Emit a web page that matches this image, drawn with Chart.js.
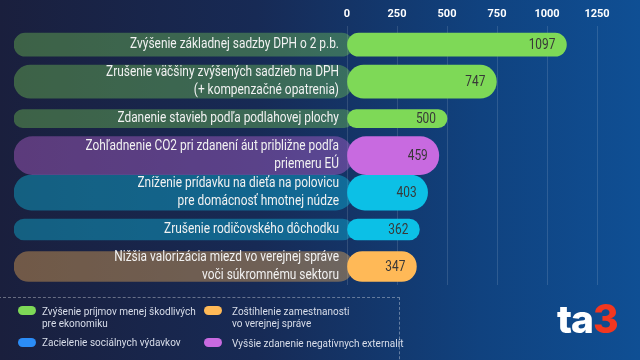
<!DOCTYPE html>
<html>
<head>
<meta charset="utf-8">
<script src="https://cdn.jsdelivr.net/npm/chart.js@4.4.1/dist/chart.umd.min.js"></script>
<style>
  html, body { margin: 0; padding: 0; }
  body {
    width: 640px; height: 360px; overflow: hidden; position: relative;
    background: linear-gradient(90deg, #1a1f3d 0%, #172a55 40%, #10427f 75%, #0f4f94 100%);
    font-family: Roboto, sans-serif;
  }
  #wrap { position: absolute; left: 0; top: 0; width: 640px; height: 360px; }
  .legend-box {
    position: absolute; left: -2px; top: 297px; width: 400px; height: 80px;
    border: 1px dashed rgba(255, 255, 255, 0.35);
  }
  .item {
    position: absolute; color: #d9deea; font-size: 11.5px; line-height: 12px;
    white-space: nowrap; transform: scaleX(0.87); transform-origin: left top;
  }
  .sw { position: absolute; width: 18px; height: 9px; border-radius: 5px; }
  .logo {
    position: absolute; left: 557px; top: 295px; font-family: Inter, sans-serif;
    font-weight: 800; font-size: 39px; letter-spacing: -1px; color: #fff;
  }
  .logo span { color: #f2371f; }
</style>
</head>
<body>
<div id="wrap"><canvas id="chart"></canvas></div>

<div class="legend-box"></div>
<div class="sw" style="left:18px; top:306px; background:#7ed957"></div>
<div class="item" style="left:42px; top:305px">Zvýšenie príjmov menej škodlivých<br>pre ekonomiku</div>
<div class="sw" style="left:18px; top:338px; background:#2b8cf6"></div>
<div class="item" style="left:42px; top:336px">Zacielenie sociálnych výdavkov</div>
<div class="sw" style="left:204px; top:306px; background:#ffb957"></div>
<div class="item" style="left:232px; top:305px">Zoštíhlenie zamestnanosti<br>vo verejnej správe</div>
<div class="sw" style="left:204px; top:338px; background:#c86ae0"></div>
<div class="item" style="left:232px; top:337px">Vyššie zdanenie negatívnych externalít</div>

<div class="logo">ta<span>3</span></div>

<script>
// === Data ===
const labels = [
  'Zvýšenie základnej sadzby DPH o 2 p.b.',
  ['Zrušenie väčšiny zvýšených sadzieb na DPH', '(+ kompenzačné opatrenia)'],
  'Zdanenie stavieb podľa podlahovej plochy',
  ['Zohľadnenie CO2 pri zdanení áut približne podľa', 'priemeru EÚ'],
  ['Zníženie prídavku na dieťa na polovicu', 'pre domácnosť hmotnej núdze'],
  'Zrušenie rodičovského dôchodku',
  ['Nižšia valorizácia miezd vo verejnej správe', 'voči súkromnému sektoru']
];
const values = [1097, 747, 500, 459, 403, 362, 347];
const groups = ['prijmy', 'prijmy', 'prijmy', 'externality', 'socialne', 'socialne', 'zamestnanost'];
const tickValues = [0, 250, 500, 750, 1000, 1250];

// === Styles ===
const barColors = {
  prijmy: '#7ed957',
  externality: '#c86ae0',
  socialne: '#0cc0e6',
  zamestnanost: '#ffb957'
};
const pillColors = {
  prijmy: 'rgba(126, 217, 87, 0.36)',
  externality: 'rgba(200, 106, 224, 0.38)',
  socialne: 'rgba(12, 192, 230, 0.40)',
  zamestnanost: 'rgba(255, 185, 87, 0.38)'
};
const thickness = [23, 33, 18, 38, 35, 21, 30];
const xMin = -1665;
const xMax = 1450;
const pillEnd = 30;
const squeeze = 0.85; // condensed look of the original typeface

window.onload = function () {
  const ctx = document.getElementById('chart').getContext('2d');

  const datasets = [];
  // colored value bars (drawn on top)
  values.forEach((v, i) => {
    datasets.push({
      data: values.map((_, j) => (j === i ? v : null)),
      backgroundColor: barColors[groups[i]],
      barThickness: thickness[i],
      borderRadius: 40,
      borderSkipped: false,
      order: 0
    });
  });
  // dark pills behind the category labels
  values.forEach((v, i) => {
    datasets.push({
      data: values.map((_, j) => (j === i ? [xMin, pillEnd] : null)),
      backgroundColor: pillColors[groups[i]],
      barThickness: thickness[i],
      borderRadius: 40,
      borderSkipped: false,
      order: 1
    });
  });

  function squeezedText(c, text, x, y) {
    c.save();
    c.translate(x, y);
    c.scale(squeeze, 1);
    c.fillText(text, 0, 0);
    c.restore();
  }

  const rowText = {
    id: 'rowText',
    afterDatasetsDraw(chart) {
      const c = chart.ctx;
      const xs = chart.scales.x;
      const ys = chart.scales.y;
      c.save();
      c.textAlign = 'right';
      c.textBaseline = 'middle';

      // category labels inside the pills
      c.font = '14px Roboto, sans-serif';
      c.fillStyle = '#f2f2f2';
      const xLab = xs.getPixelForValue(0) - 8;
      labels.forEach((lab, i) => {
        const lines = Array.isArray(lab) ? lab : [lab];
        const yc = ys.getPixelForValue(i);
        const lh = 17.8;
        lines.forEach((ln, k) => {
          squeezedText(c, ln, xLab, yc + (k - (lines.length - 1) / 2) * lh);
        });
      });

      // values at the end of the bars
      c.font = '14px Roboto, sans-serif';
      c.fillStyle = '#383838';
      values.forEach((v, i) => {
        const el = chart.getDatasetMeta(i).data[i];
        squeezedText(c, String(v), el.x - 11, el.y + 1);
      });
      c.restore();
    }
  };

  new Chart(ctx, {
    type: 'bar',
    data: { labels: labels, datasets: datasets },
    options: {
      indexAxis: 'y',
      responsive: true,
      maintainAspectRatio: false,
      animation: false,
      layout: { padding: { top: 3, left: 14, right: 3, bottom: 75 } },
      plugins: { legend: { display: false }, tooltip: { enabled: false } },
      datasets: { bar: { grouped: false } },
      scales: {
        x: {
          position: 'top',
          min: xMin,
          max: xMax,
          afterBuildTicks: axis => {
            axis.ticks = tickValues.map(v => ({ value: v }));
          },
          ticks: {
            color: '#ffffff',
            font: { family: 'Roboto, sans-serif', size: 11, weight: 'bold' },
            padding: 5,
            autoSkip: false,
            maxRotation: 0,
            callback: v => String(v)
          },
          grid: { color: 'rgba(255, 255, 255, 0.13)', drawTicks: false },
          border: { display: false }
        },
        y: { display: false }
      }
    },
    plugins: [rowText]
  });
};
</script>
</body>
</html>
